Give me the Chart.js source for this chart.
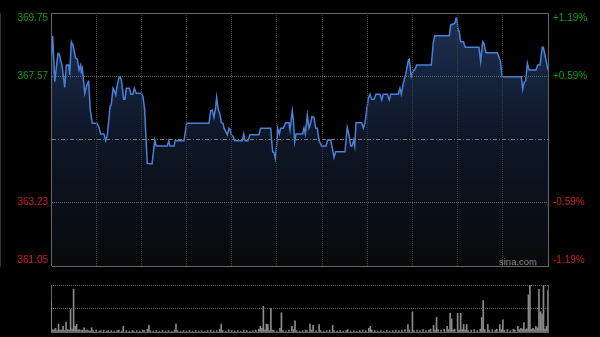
<!DOCTYPE html>
<html>
<head>
<meta charset="utf-8">
<script src="https://cdn.jsdelivr.net/npm/chart.js@4.4.1/dist/chart.umd.min.js"></script>
<style>
  body { margin: 0; background: #000; }
  #wrap { position: relative; width: 600px; height: 337px; background: #000; }
  canvas { position: absolute; left: 0; }
  #priceChart { top: 0; }
  #volChart { top: 270px; }
</style>
</head>
<body>
<div id="wrap">
  <canvas id="priceChart" width="600" height="270"></canvas>
  <canvas id="volChart" width="600" height="67"></canvas>
</div>
<script>
// intraday data, minutes since the open
const prevClose = 365.40;
const priceTicks = [361.05, 363.23, 365.40, 367.57, 369.75];
const gridMinutes = [0, 30, 60, 90, 120, 150, 180, 210, 240, 270, 300, 330];

const pointTimes = [0, 1.1, 2.5, 4.6, 5.3, 7.3, 9.1, 10.2, 11.8, 12.4, 13.5, 14.6, 16.4, 17.5, 18.6, 19.7, 20.1, 20.8,
  22.4, 24.1, 25, 26.1, 27.4, 30.5, 31.7, 33, 35.2, 36.3, 37.4, 39.2, 40, 41.2, 42.3, 43, 43.8, 45, 45.8, 46.7,
  48.3, 49.1, 50, 52, 53.1, 54.4, 55.3, 56.6, 60, 61.1, 62.2, 63.9, 67.1, 68.9, 69.9, 77.2, 78.2, 79, 81.7, 82.5,
  88.3, 90.1, 104.9, 106, 107.1, 108.2, 109.4, 110, 111.1, 112, 113.1, 114.2, 114.9, 116, 117.1, 118.2, 118.9,
  119.7, 121, 122, 127, 128, 128.8, 130.8, 132.1, 138.1, 139.2, 145.9, 146.5, 147.2, 148.1, 148.9, 149.9, 150.5,
  151.6, 152.5, 154.2, 155.8, 158, 158.7, 160.2, 160.9, 161.8, 162.7, 167.1, 168, 168.9, 170.2, 171.3, 172,
  173.3, 174.6, 175.8, 176.8, 178, 179.7, 182.6, 183.7, 185.7, 187, 187.9, 189, 195.2, 196.7, 197.9, 199, 199.9,
  201, 201.7, 202.5, 206.3, 207.4, 208.5, 209.6, 210.7, 211.8, 212.9, 214.5, 215.8, 218.5, 219.6, 220.6, 223.3,
  224.6, 225.6, 230.6, 231.7, 232.6, 233.9, 235.7, 237.3, 237.9, 239.2, 240.6, 241.5, 242.8, 252.5, 253.8, 254.8,
  264.5, 265.4, 267.1, 268.1, 268.9, 269.4, 270.3, 271.1, 272, 273.8, 275.1, 284.2, 285.3, 286.6, 287.5, 288.8,
  296.3, 297.7, 298.3, 299.5, 312.3, 313.2, 314.1, 315.2, 316.3, 317.4, 322, 323.2, 324.7, 326.2, 326.9, 328.2, 330];

const pointPrices = [368.02, 368.96, 367.39, 368.36, 368.36, 367.96, 367.19, 367.96, 367.96, 367.62, 368.76, 368.65,
  368.19, 368.16, 367.79, 367.96, 367.73, 367.85, 366.99, 367.33, 367.39, 366.41, 365.96, 365.96, 365.84, 365.59,
  365.59, 365.36, 365.56, 366.53, 366.59, 367.16, 367.04, 366.93, 367.22, 367.50, 367.56, 367.45, 366.78, 366.78,
  367.16, 367.16, 366.96, 366.96, 367.16, 366.99, 366.99, 366.87, 366.41, 364.58, 364.56, 365.38, 365.18, 365.18,
  365.36, 365.18, 365.18, 365.36, 365.36, 365.96, 365.96, 366.39, 366.41, 366.16, 366.53, 366.85, 366.41, 366.30,
  365.98, 365.96, 365.79, 365.67, 365.56, 365.79, 365.75, 365.56, 365.50, 365.36, 365.36, 365.59, 365.36, 365.36,
  365.56, 365.56, 365.79, 365.79, 365.38, 364.98, 364.95, 364.75, 365.27, 365.79, 365.59, 365.79, 365.79, 365.98,
  365.98, 365.73, 366.39, 366.07, 365.32, 365.59, 365.59, 365.79, 365.59, 366.24, 365.79, 365.90, 366.18, 366.16,
  365.79, 365.79, 365.36, 365.18, 365.18, 365.38, 365.38, 365.04, 364.79, 364.98, 364.98, 365.82, 365.56, 365.18,
  365.18, 365.38, 365.18, 365.98, 365.98, 365.79, 365.98, 366.41, 366.82, 366.96, 366.78, 366.78, 366.96, 366.96,
  366.76, 366.96, 366.96, 366.76, 366.96, 366.96, 367.16, 366.96, 367.33, 367.68, 368.13, 368.16, 367.56, 367.77,
  367.79, 367.96, 367.96, 368.71, 368.97, 368.97, 369.34, 369.37, 369.40, 369.57, 369.57, 369.17, 369.11, 368.76,
  368.76, 368.57, 368.57, 368.08, 368.76, 368.71, 368.38, 368.38, 368.19, 368.13, 367.56, 367.56, 367.13, 367.35,
  367.42, 368.02, 367.79, 367.79, 367.96, 367.96, 368.57, 368.57, 368.25, 367.79];

// volume, as % of the panel height
const volTimes = [0, 1, 2, 3, 4, 5, 6, 7, 8, 9, 10, 11, 12, 13, 14, 15, 16, 17, 18, 19, 20, 21, 22, 23, 24, 25, 26,
  27, 28, 30, 32, 33, 35, 37, 38, 40, 42, 44, 45, 47, 48, 50, 52, 54, 55, 57, 59, 61, 62, 64, 65, 66, 68, 70, 72,
  74, 76, 78, 80, 82, 83, 84, 86, 88, 90, 92, 94, 96, 98, 100, 102, 104, 106, 108, 110, 112, 113, 114, 116, 118,
  120, 122, 124, 126, 128, 130, 132, 134, 136, 138, 139, 140, 141, 142, 143, 144, 145, 146, 147, 148, 150, 152,
  153, 154, 156, 158, 160, 161, 162, 163, 165, 167, 169, 170, 172, 173, 174, 176, 178, 179, 181, 183, 185, 187,
  188, 190, 192, 194, 196, 197, 199, 201, 203, 205, 207, 209, 211, 212, 213, 215, 217, 219, 221, 223, 225, 227,
  229, 231, 233, 235, 237, 238, 240, 241, 243, 245, 247, 249, 251, 252, 254, 255, 256, 257, 259, 261, 263, 264,
  265, 266, 267, 268, 270, 271, 272, 273, 274, 275, 276, 277, 279, 281, 283, 285, 286, 287, 288, 290, 291, 293,
  295, 296, 298, 299, 300, 301, 303, 305, 307, 308, 310, 311, 312, 313, 314, 315, 316, 317, 318, 319, 320, 321,
  322, 323, 324, 325, 326, 327, 328, 329, 330];
const volValues = [64, 5, 4, 8, 3, 17, 4, 4, 12, 3, 21, 5, 4, 48, 6, 91, 12, 16, 4, 5, 3, 4, 9, 3, 4, 3, 2,
  9, 3, 4, 2, 3, 4, 2, 3, 3, 2, 3, 4, 2, 12, 3, 2, 3, 2, 3, 2, 4, 3, 6, 14, 3, 2, 3, 2,
  3, 2, 3, 2, 4, 17, 3, 2, 3, 2, 3, 2, 3, 2, 3, 2, 3, 4, 2, 3, 6, 17, 3, 2, 5,
  3, 2, 3, 2, 4, 3, 2, 3, 4, 6, 12, 8, 55, 4, 17, 16, 3, 50, 4, 3, 2, 8,
  41, 3, 2, 4, 12, 5, 24, 3, 2, 3, 4, 3, 17, 4, 14, 3, 16, 3, 2, 3, 4, 14,
  3, 2, 3, 2, 3, 5, 2, 3, 2, 3, 4, 3, 8, 12, 4, 3, 2, 3, 2, 3, 2, 3,
  4, 3, 4, 5, 16, 4, 43, 3, 4, 3, 5, 3, 4, 6, 14, 4, 31, 5, 4, 6, 12, 5,
  40, 28, 4, 6, 40, 4, 40, 5, 16, 4, 16, 3, 4, 5, 3, 6, 31, 67, 5, 16, 4, 5,
  4, 6, 16, 5, 26, 4, 5, 3, 6, 4, 12, 5, 8, 6, 20, 5, 7, 79, 100, 6, 8, 5,
  12, 9, 91, 43, 38, 100, 6, 12, 88];

const green = '#149c14';
const red = '#d41c1c';

Chart.defaults.font.family = "'Liberation Sans', Arial, sans-serif";
Chart.defaults.font.size = 10;
Chart.defaults.animation = false;

function areaFill(c) {
  const area = c.chart.chartArea;
  if (!area) return 'transparent';
  const g = c.chart.ctx.createLinearGradient(0, area.top, 0, area.bottom);
  g.addColorStop(0, 'rgb(28,48,84)');
  g.addColorStop(0.5, 'rgb(14,22,38)');
  g.addColorStop(1, 'rgb(8,9,12)');
  return g;
}

const watermark = {
  id: 'watermark',
  afterDraw(chart) {
    const { ctx, chartArea } = chart;
    ctx.save();
    ctx.font = "9.5px 'Liberation Sans', Arial";
    ctx.fillStyle = '#8c8c8c';
    ctx.textAlign = 'right';
    ctx.fillText('sina.com', chartArea.right - 11, chartArea.bottom - 1);
    ctx.restore();
  }
};

const setPriceTicks = s => { s.ticks = priceTicks.map(v => ({ value: v })); };

new Chart(document.getElementById('priceChart'), {
  type: 'line',
  data: {
    datasets: [{
      data: pointTimes.map((t, i) => ({ x: t, y: pointPrices[i] })),
      borderColor: 'rgb(74,128,216)',
      borderWidth: 1.5,
      backgroundColor: areaFill,
      fill: 'start',
      pointRadius: 0,
      tension: 0
    }]
  },
  options: {
    responsive: false,
    layout: { padding: { top: 13 } },
    plugins: { legend: { display: false }, tooltip: { enabled: false } },
    scales: {
      x: {
        type: 'linear', min: 0, max: 330,
        afterBuildTicks: s => { s.ticks = gridMinutes.map(v => ({ value: v })); },
        afterFit: s => { s.height = 4; },
        ticks: { display: false },
        grid: {
          z: 1,
          drawTicks: false,
          color: c => (c.tick && (c.tick.value === 0 || c.tick.value === 330)) ? '#666' : '#3c3c3c'
        },
        border: {
          display: false,
          dash: c => (c.tick && (c.tick.value === 0 || c.tick.value === 330)) ? [] : [1, 1]
        }
      },
      y: {
        position: 'left', min: 361.05, max: 369.75,
        afterBuildTicks: setPriceTicks,
        afterFit: s => { s.width = 51; s.paddingTop = 0; s.paddingBottom = 0; },
        ticks: {
          autoSkip: false, padding: 3,
          font: { size: 10, lineHeight: 1.1 },
          color: c => c.tick.value > prevClose ? green : red,
          callback: (v, i) => {
            if (i === 2) return '';
            const s = v.toFixed(2);
            if (i === 4) return ['', s];
            if (i === 0) return [s, ''];
            return s;
          }
        },
        grid: {
          z: 1,
          drawTicks: false,
          color: c => {
            if (c.index === 0 || c.index === 4) return '#666';
            if (c.index === 2) return '#7a7a7a';
            return '#6a6a6a';
          }
        },
        border: {
          color: '#666',
          dash: c => {
            if (c.index === 0 || c.index === 4 || c.index === undefined) return [];
            if (c.index === 2) return [4, 2, 1, 2];
            return [1, 1];
          }
        }
      },
      y2: {
        position: 'right', min: 361.05, max: 369.75,
        afterBuildTicks: setPriceTicks,
        afterFit: s => { s.width = 52; s.paddingTop = 0; s.paddingBottom = 0; },
        ticks: {
          autoSkip: false, padding: 5,
          font: { size: 10, lineHeight: 1.1 },
          color: c => c.tick.value > prevClose ? green : red,
          callback: (v, i) => {
            if (i === 2) return '';
            const pct = (v / prevClose - 1) * 100;
            const s = (pct > 0 ? '+' : '') + pct.toFixed(2) + '%';
            if (i === 4) return ['', s];
            if (i === 0) return [s, ''];
            return s;
          }
        },
        grid: { drawOnChartArea: false, drawTicks: false },
        border: { color: '#666' }
      }
    }
  },
  plugins: [watermark]
});

new Chart(document.getElementById('volChart'), {
  type: 'bar',
  data: {
    datasets: [{
      data: volTimes.map((t, i) => ({ x: t, y: volValues[i] })),
      backgroundColor: '#8a8a8a',
      borderWidth: 0,
      barThickness: 1
    }]
  },
  options: {
    responsive: false,
    layout: { padding: { left: 51, right: 52, top: 15, bottom: 5 } },
    plugins: { legend: { display: false }, tooltip: { enabled: false } },
    scales: {
      x: {
        type: 'linear', min: 0, max: 330, offset: false,
        afterBuildTicks: s => { s.ticks = [{ value: 0 }, { value: 330 }]; },
        afterFit: s => { s.height = 0; },
        ticks: { display: false },
        grid: { offset: false, drawTicks: false, color: '#666' },
        border: { display: true, color: '#666' }
      },
      y: {
        min: 0, max: 100,
        afterBuildTicks: s => { s.ticks = [{ value: 0 }, { value: 50 }, { value: 100 }]; },
        afterFit: s => { s.width = 0; },
        ticks: { display: false },
        grid: { drawTicks: false, color: '#6a6a6a' },
        border: { display: false, dash: [1, 1] }
      }
    }
  }
});
</script>
</body>
</html>
